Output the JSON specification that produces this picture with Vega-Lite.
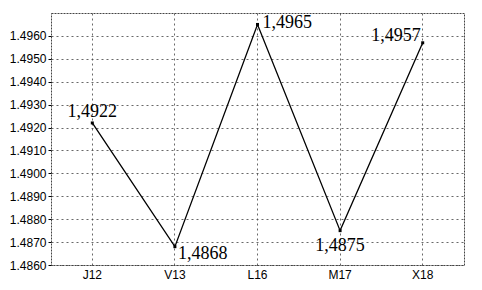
{
  "$schema": "https://vega.github.io/schema/vega-lite/v6.json",
  "width": 413,
  "height": 252,
  "autosize": {"type": "none"},
  "padding": {"left": 51, "top": 13, "right": 18, "bottom": 25},
  "background": "white",
  "config": {
    "view": {"stroke": "#444", "strokeDash": [2, 1], "strokeWidth": 1},
    "axis": {"labelFont": "Liberation Sans", "labelFontSize": 12, "labelColor": "#000", "domain": false, "title": null}
  },
  "data": {"values": [
    {"cat": "J12", "v": 1.4922, "label": "1,4922"},
    {"cat": "V13", "v": 1.4868, "label": "1,4868"},
    {"cat": "L16", "v": 1.4965, "label": "1,4965"},
    {"cat": "M17", "v": 1.4875, "label": "1,4875"},
    {"cat": "X18", "v": 1.4957, "label": "1,4957"}
  ]},
  "encoding": {
    "x": {"field": "cat", "type": "nominal", "sort": null,
      "scale": {"type": "band", "paddingInner": 0, "paddingOuter": 0},
      "axis": {"labelAngle": 0, "grid": true, "gridDash": [2, 3], "gridColor": "#444", "gridOpacity": 0.8, "bandPosition": 0.5, "ticks": false, "labelPadding": 4}},
    "y": {"field": "v", "type": "quantitative",
      "scale": {"domain": [1.486, 1.497], "nice": false, "zero": false},
      "axis": {"values": [1.486, 1.487, 1.488, 1.489, 1.49, 1.491, 1.492, 1.493, 1.494, 1.495, 1.496], "format": ".4f", "grid": true, "gridDash": [2, 3], "gridColor": "#444", "gridOpacity": 0.8, "tickSize": 3, "tickColor": "#000", "labelPadding": 2}}
  },
  "layer": [
    {"mark": {"type": "line", "color": "#000", "strokeWidth": 1.3}},
    {"mark": {"type": "point", "shape": "square", "size": 9, "filled": true, "color": "#000", "opacity": 1}},
    {"transform": [{"filter": "datum.cat == 'J12'"}],
     "mark": {"type": "text", "font": "Liberation Serif", "fontSize": 18, "align": "center", "baseline": "bottom", "dy": -2},
     "encoding": {"text": {"field": "label"}}},
    {"transform": [{"filter": "datum.cat == 'V13'"}],
     "mark": {"type": "text", "font": "Liberation Serif", "fontSize": 18, "align": "left", "baseline": "middle", "dx": 3, "dy": 7},
     "encoding": {"text": {"field": "label"}}},
    {"transform": [{"filter": "datum.cat == 'L16'"}],
     "mark": {"type": "text", "font": "Liberation Serif", "fontSize": 18, "align": "left", "baseline": "middle", "dx": 5, "dy": -1},
     "encoding": {"text": {"field": "label"}}},
    {"transform": [{"filter": "datum.cat == 'M17'"}],
     "mark": {"type": "text", "font": "Liberation Serif", "fontSize": 18, "align": "center", "baseline": "middle", "dy": 15},
     "encoding": {"text": {"field": "label"}}},
    {"transform": [{"filter": "datum.cat == 'X18'"}],
     "mark": {"type": "text", "font": "Liberation Serif", "fontSize": 18, "align": "right", "baseline": "middle", "dx": -2, "dy": -7},
     "encoding": {"text": {"field": "label"}}}
  ]
}
